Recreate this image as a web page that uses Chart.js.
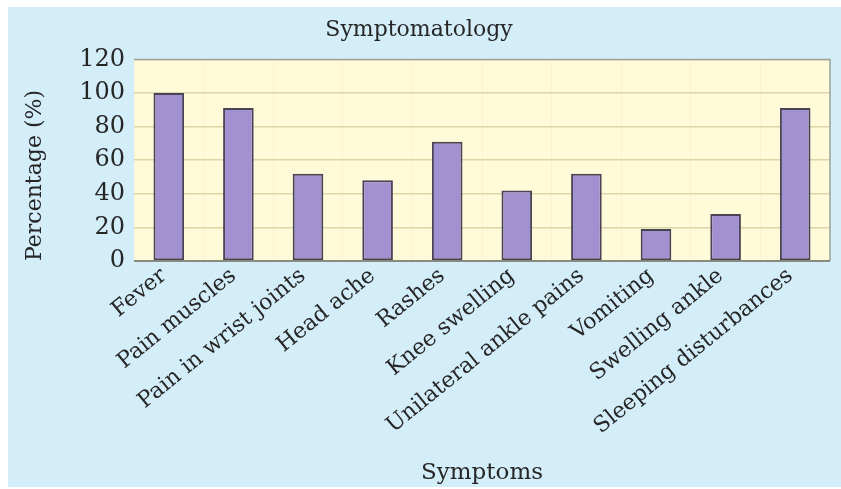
<!doctype html>
<html>

<head>
    <title>Symptomatology</title>
    <script src="https://cdn.jsdelivr.net/npm/chart.js"></script>
    <style>
        html, body { margin: 0; padding: 0; background: #ffffff; }
        .box { width: 841px; height: 489px; }
    </style>
</head>

<body>
    <div class="box">
        <canvas id="sintomas" width="841" height="489"></canvas>
    </div>

    <script>
        var categorias = ["Fever", "Pain muscles", "Pain in wrist joints", "Head ache", "Rashes",
            "Knee swelling", "Unilateral ankle pains", "Vomiting", "Swelling ankle", "Sleeping disturbances"]
        var percentuais = [100, 91, 52, 48, 71, 42, 52, 19, 28, 91]
        var ticksY = [0, 20, 40, 60, 80, 100, 120]

        var fonte = "'DejaVu Serif', 'Liberation Serif', serif"

        // fundo azul do painel e amarelo da area do grafico
        var fundos = {
            id: 'fundos',
            beforeDraw(chart) {
                var ctx = chart.ctx
                var a = chart.chartArea
                ctx.save()
                ctx.fillStyle = '#d3edf9'
                ctx.fillRect(8, 7, chart.width - 8, 480)
                ctx.fillStyle = '#fffbd8'
                ctx.fillRect(a.left, a.top, a.right - a.left, a.bottom - a.top)
                ctx.restore()
            },
            afterDatasetsDraw(chart) {
                var ctx = chart.ctx
                var a = chart.chartArea
                ctx.save()
                ctx.strokeStyle = '#9fa396'
                ctx.lineWidth = 1.5
                ctx.beginPath()
                ctx.moveTo(a.left, a.top)
                ctx.lineTo(a.right, a.top)
                ctx.lineTo(a.right, a.bottom)
                ctx.stroke()
                ctx.strokeStyle = '#6f7068'
                ctx.beginPath()
                ctx.moveTo(a.left, a.bottom)
                ctx.lineTo(a.right, a.bottom)
                ctx.stroke()
                ctx.restore()
            }
        }

        var grafico = new Chart(document.getElementById('sintomas').getContext('2d'), {
            type: 'bar',
            data: {
                labels: categorias,
                datasets: [{
                    label: 'Percentage (%)',
                    data: percentuais,
                    backgroundColor: '#a291d1',
                    borderColor: '#4a4356',
                    borderWidth: 2,
                    borderSkipped: false,
                    barPercentage: 0.44,
                    categoryPercentage: 1
                }]
            },
            options: {
                responsive: false,
                animation: false,
                layout: {
                    padding: { left: 8, right: 11, top: 7, bottom: 2 }
                },
                plugins: {
                    legend: { display: false },
                    tooltip: { enabled: false },
                    title: {
                        display: true,
                        text: 'Symptomatology',
                        color: '#262626',
                        font: { size: 22, family: fonte, weight: 'normal' },
                        padding: { top: 10, bottom: 16 }
                    }
                },
                scales: {
                    x: {
                        grid: {
                            display: true,
                            drawTicks: false,
                            color: 'rgba(200, 200, 180, 0.12)',
                            offset: true
                        },
                        border: { display: false },
                        ticks: {
                            color: '#262626',
                            font: { size: 22, family: fonte },
                            minRotation: 39,
                            maxRotation: 39,
                            autoSkip: false,
                            labelOffset: -5,
                            padding: 2
                        },
                        title: {
                            display: true,
                            text: 'Symptoms',
                            color: '#262626',
                            font: { size: 23, family: fonte },
                            padding: { top: 0, bottom: 0 }
                        },
                        afterFit(scale) { scale.height = 226 }
                    },
                    y: {
                        min: 0,
                        max: 120,
                        afterBuildTicks(scale) {
                            scale.ticks = ticksY.map(function (v) { return { value: v } })
                        },
                        grid: {
                            color: '#ddd5a8',
                            lineWidth: 1.5,
                            drawTicks: false
                        },
                        border: { display: false },
                        ticks: {
                            color: '#262626',
                            font: { size: 24, family: fonte },
                            padding: 9
                        },
                        title: {
                            display: true,
                            text: 'Percentage (%)',
                            color: '#262626',
                            align: 'start',
                            font: { size: 22, family: fonte },
                            padding: { top: 14, bottom: 0 }
                        },
                        afterFit(scale) { scale.width = 126 }
                    }
                }
            },
            plugins: [fundos]
        });
    </script>
</body>

</html>
